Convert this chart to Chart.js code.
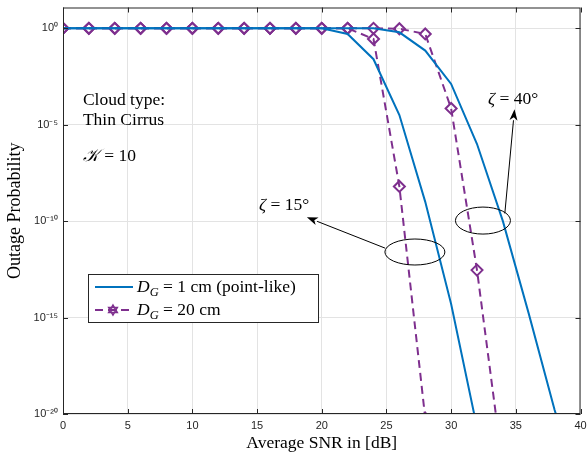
<!DOCTYPE html>
<html>
<head>
<meta charset="utf-8">
<script src="https://cdn.jsdelivr.net/npm/chart.js@4"></script>
<style>
  html, body { margin: 0; padding: 0; background: #fff; }
</style>
</head>
<body>
<canvas id="chart" width="588" height="456"></canvas>
<script>
// data (outage probability vs average SNR)
const snr = [0, 2, 4, 6, 8, 10, 12, 14, 16, 18, 20, 22, 24, 26, 28, 30, 32, 34, 36, 38, 40];
const point15 = [1, 1, 1, 1, 1, 1, 1, 1, 1, 1, 1, 0.51, 0.025, 3.2e-5, 1e-9, 5e-15, 2e-21, null, null, null, null];
const point40 = [1, 1, 1, 1, 1, 1, 1, 1, 1, 1, 1, 1, 1, 0.62, 0.07, 1.3e-3, 1e-6, 1e-10, 1.6e-15, 1.6e-20, 1e-24];
const big15 = [1, 1, 1, 1, 1, 1, 1, 1, 1, 1, 1, 1, 0.28, 6.3e-9, 6e-21, null, null, null, null, null, null];
const big40 = [1, 1, 1, 1, 1, 1, 1, 1, 1, 1, 1, 1, 1, 0.95, 0.51, 7e-5, 2.9e-13, 1.6e-23, null, null, null];

const xTicks = [0, 5, 10, 15, 20, 25, 30, 35, 40];
const yTicks = [1e-20, 1e-15, 1e-10, 1e-5, 1];
const yTickLabels = ["10⁻²⁰", "10⁻¹⁵", "10⁻¹⁰", "10⁻⁵", "10⁰"];

const BLUE = "#0072BD";
const PURPLE = "#7E2F8E";
const AXIS = "#262626";
const SERIF = "'Liberation Serif', 'DejaVu Serif', serif";
const SANS = "'Liberation Sans', Arial, sans-serif";

function pairs(vals) {
  return snr.map((x, i) => ({ x: x, y: vals[i] }));
}

// text, ellipses and arrows on top of the plot
const extras = {
  id: "extras",
  afterDraw(chart) {
    const ctx = chart.ctx;
    const xs = chart.scales.x, ys = chart.scales.y;
    const a = chart.chartArea;
    const px = (v) => xs.getPixelForValue(v);
    const py = (e) => ys.getPixelForValue(Math.pow(10, e));

    ctx.save();
    // box + inward ticks
    ctx.strokeStyle = AXIS;
    ctx.lineWidth = 1;
    ctx.strokeRect(a.left + 0.5, a.top + 0.5, a.right - a.left - 1, a.bottom - a.top - 1);
    ctx.beginPath();
    xTicks.forEach((t) => {
      const x = Math.round(px(t)) + 0.5;
      ctx.moveTo(x, a.bottom); ctx.lineTo(x, a.bottom - 5);
      ctx.moveTo(x, a.top); ctx.lineTo(x, a.top + 5);
    });
    yTicks.forEach((t) => {
      const y = Math.round(ys.getPixelForValue(t)) + 0.5;
      ctx.moveTo(a.left, y); ctx.lineTo(a.left + 5, y);
      ctx.moveTo(a.right, y); ctx.lineTo(a.right - 5, y);
    });
    ctx.stroke();

    // text labels
    ctx.fillStyle = "#000";
    ctx.textBaseline = "alphabetic";
    ctx.textAlign = "left";
    ctx.font = "17.5px " + SERIF;
    ctx.fillText("Cloud type:", px(1.54), py(-3.97));
    ctx.fillText("Thin Cirrus", px(1.54), py(-5.0));
    ctx.font = "italic 17.5px " + SERIF;
    ctx.fillText("𝒦", px(1.54), py(-6.9));
    const kw = ctx.measureText("𝒦").width;
    ctx.font = "17.5px " + SERIF;
    ctx.fillText(" = 10", px(1.54) + kw + 1, py(-6.9));

    function zeta(x, y, rest) {
      ctx.font = "italic 17.5px " + SERIF;
      ctx.fillText("ζ", x, y);
      const w = ctx.measureText("ζ").width;
      ctx.font = "17.5px " + SERIF;
      ctx.fillText(rest, x + w, y);
    }
    zeta(px(15.15), py(-9.4), " = 15°");
    zeta(px(32.85), py(-3.9), " = 40°");

    // ellipses
    ctx.strokeStyle = "#000";
    ctx.lineWidth = 1;
    ctx.beginPath();
    ctx.ellipse(px(27.2), py(-11.6), 30, 13, 0, 0, Math.PI * 2);
    ctx.stroke();
    ctx.beginPath();
    ctx.ellipse(px(32.46), py(-9.97), 27.5, 13.5, 0, 0, Math.PI * 2);
    ctx.stroke();

    function arrow(x1, y1, x2, y2) {
      const ang = Math.atan2(y2 - y1, x2 - x1);
      const len = 11, half = 4;
      const bx = x2 - len * Math.cos(ang), by = y2 - len * Math.sin(ang);
      ctx.beginPath();
      ctx.moveTo(x1, y1); ctx.lineTo(bx, by);
      ctx.stroke();
      ctx.beginPath();
      ctx.moveTo(x2, y2);
      ctx.lineTo(bx + half * Math.sin(ang), by - half * Math.cos(ang));
      ctx.lineTo(bx + 3 * Math.cos(ang), by + 3 * Math.sin(ang));
      ctx.lineTo(bx - half * Math.sin(ang), by + half * Math.cos(ang));
      ctx.closePath();
      ctx.fillStyle = "#000";
      ctx.fill();
    }
    arrow(px(24.9), py(-11.4), px(18.85), py(-9.8));
    arrow(px(34.15), py(-9.6), px(34.9), py(-4.2));

    // legend
    const lx = 88, ly = 274, lw = 230, lh = 48;
    ctx.fillStyle = "#fff";
    ctx.fillRect(lx, ly, lw, lh);
    ctx.strokeStyle = AXIS;
    ctx.strokeRect(lx + 0.5, ly + 0.5, lw, lh);

    ctx.lineWidth = 2;
    ctx.strokeStyle = BLUE;
    ctx.beginPath(); ctx.moveTo(95, 287); ctx.lineTo(133, 287); ctx.stroke();
    ctx.strokeStyle = PURPLE;
    ctx.setLineDash([8, 5]);
    ctx.beginPath(); ctx.moveTo(95, 310); ctx.lineTo(133, 310); ctx.stroke();
    ctx.setLineDash([]);
    // hexagram marker
    ctx.lineWidth = 1.5;
    const cx = 113, cy = 310, r = 5;
    [0, Math.PI].forEach((off) => {
      ctx.beginPath();
      for (let k = 0; k < 3; k++) {
        const t = off - Math.PI / 2 + k * 2 * Math.PI / 3;
        const X = cx + r * Math.cos(t), Y = cy + r * Math.sin(t);
        if (k === 0) ctx.moveTo(X, Y); else ctx.lineTo(X, Y);
      }
      ctx.closePath();
      ctx.stroke();
    });

    function dg(x, y, rest) {
      ctx.fillStyle = "#000";
      ctx.font = "italic 17.5px " + SERIF;
      ctx.fillText("D", x, y);
      let w = ctx.measureText("D").width;
      ctx.font = "italic 12.5px " + SERIF;
      ctx.fillText("G", x + w, y + 4);
      w += ctx.measureText("G").width;
      ctx.font = "17.5px " + SERIF;
      ctx.fillText(rest, x + w, y);
    }
    dg(137, 292, " = 1 cm (point-like)");
    dg(137, 315, " = 20 cm");

    ctx.restore();
  }
};

const chart = new Chart(document.getElementById("chart"), {
  type: "line",
  data: {
    datasets: [
      { label: "ζ = 15°, DG = 1 cm", data: pairs(point15), borderColor: BLUE, borderWidth: 2, pointRadius: 0 },
      { label: "ζ = 40°, DG = 1 cm", data: pairs(point40), borderColor: BLUE, borderWidth: 2, pointRadius: 0 },
      { label: "ζ = 15°, DG = 20 cm", data: pairs(big15), borderColor: PURPLE, borderWidth: 2, borderDash: [8, 5],
        pointStyle: "rectRot", pointRadius: 5.5, pointBorderWidth: 2, pointBorderColor: PURPLE, pointBackgroundColor: "rgba(0,0,0,0)" },
      { label: "ζ = 40°, DG = 20 cm", data: pairs(big40), borderColor: PURPLE, borderWidth: 2, borderDash: [8, 5],
        pointStyle: "rectRot", pointRadius: 5.5, pointBorderWidth: 2, pointBorderColor: PURPLE, pointBackgroundColor: "rgba(0,0,0,0)" },
    ],
  },
  options: {
    responsive: false,
    animation: false,
    layout: { padding: { top: 5, right: 5, left: 0, bottom: 0 } },
    plugins: { legend: { display: false }, tooltip: { enabled: false } },
    scales: {
      x: {
        type: "linear", min: 0, max: 40,
        afterBuildTicks: (s) => { s.ticks = xTicks.map((v) => ({ value: v })); },
        afterFit: (s) => { s.height = 42; s.paddingLeft = 0; s.paddingRight = 0; },
        ticks: { color: AXIS, padding: 5, font: { family: SANS, size: 11 } },
        grid: { color: "#e3e3e3", drawTicks: false },
        border: { display: false },
        title: { display: true, text: "Average SNR in [dB]", color: "#000", padding: { top: 0, bottom: 2 },
          font: { family: SERIF, size: 17.5 } },
      },
      y: {
        type: "logarithmic", min: 1e-20, max: 12,
        afterBuildTicks: (s) => { s.ticks = yTicks.map((v) => ({ value: v })); },
        afterFit: (s) => { s.width = 63; s.paddingTop = 0; s.paddingBottom = 0; },
        ticks: { color: AXIS, padding: 5, autoSkip: false, font: { family: SANS, size: 11 },
          callback: (v, i) => yTickLabels[i] },
        grid: { color: "#e3e3e3", drawTicks: false },
        border: { display: false },
        title: { display: true, text: "Outage Probability", color: "#000", padding: { top: 4, bottom: 0 },
          font: { family: SERIF, size: 18 } },
      },
    },
  },
  plugins: [extras],
});
</script>
</body>
</html>
